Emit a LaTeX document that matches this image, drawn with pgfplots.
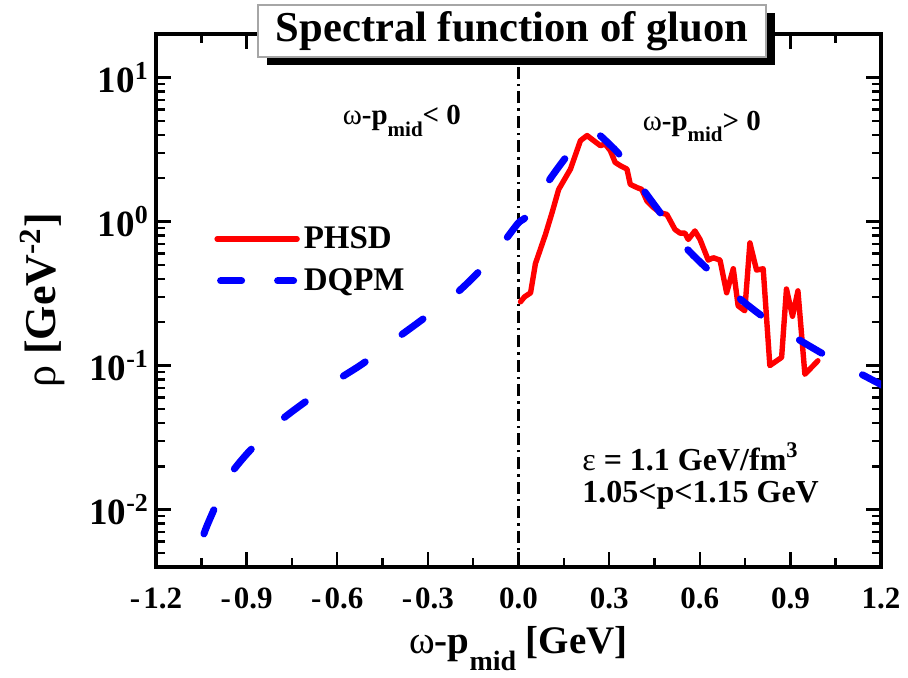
\documentclass[border=0pt]{standalone}
\usepackage{fontspec}
\setmainfont{Liberation Serif}
\usepackage{pgfplots}
\pgfplotsset{compat=1.18}
\usetikzlibrary{shadows}
\newcommand\lowsub[2]{\raisebox{-#1}{\fontsize{#2}{#2}\selectfont\bfseries mid}}
\newcommand\mn{-\kern1.5pt}
\begin{document}
\begin{tikzpicture}
\begin{axis}[
  scale only axis, width=362.5pt, height=266.5pt,
  xmin=-1.2, xmax=1.2, ymode=log, ymin=0.004, ymax=20,
  axis line style={line width=2pt},
  every tick/.style={black, line width=1.2pt},
  tick align=inside,
  major tick length=7.5pt, minor tick length=4.5pt,
  xtick={-1.2,-0.9,-0.6,-0.3,0,0.3,0.6,0.9,1.2},
  xticklabels={\mn1.2,\mn0.9,\mn0.6,\mn0.3,0.0,0.3,0.6,0.9,1.2},
  minor xtick={-1.05,-0.75,-0.45,-0.15,0.15,0.45,0.75,1.05},
  ytick={0.01,0.1,1,10},
  yticklabels={10\textsuperscript{-2},10\textsuperscript{-1},10\textsuperscript{0},10\textsuperscript{1}},
  minor ytick={0.004,0.005,0.006,0.007,0.008,0.009,0.02,0.03,0.04,0.05,0.06,0.07,0.08,0.09,0.2,0.3,0.4,0.5,0.6,0.7,0.8,0.9,2,3,4,5,6,7,8,9,20},
  xticklabel style={font=\bfseries\fontsize{15.5}{18}\selectfont, yshift=-7pt},
  yticklabel style={font=\bfseries\fontsize{18.5}{20}\selectfont},
  xlabel={{\fontsize{19.5}{22}\selectfont ω\textbf{-p}\lowsub{0.45em}{14} \textbf{[GeV]}}},
  xlabel style={at={(axis description cs:0.5,-0.162)}, anchor=base},
  ylabel={{\fontsize{22}{24}\selectfont ρ \textbf{[GeV\textsuperscript{-2}]}}},
  ylabel style={at={(axis description cs:-0.157,0.5)}, anchor=center},
  legend style={at={(axis description cs:0.08,0.647)}, anchor=north west, draw=none, fill=none,
    font=\bfseries\fontsize{16.5}{19}\selectfont, row sep=4.5pt, inner sep=0pt},
  legend cell align=left,
  clip=true,
]
\addplot[black, line width=1.2pt, dash pattern=on 6pt off 2.5pt on 1.2pt off 2.5pt, forget plot]
  coordinates {(0,0.004) (0,20)};
\addplot[red, line width=2.7pt, line join=round, line cap=round,
  legend image code/.code={\draw[red, line width=2.7pt, line cap=round, solid] (0pt,0pt) -- (40pt,0pt);}]
  coordinates {
(0.0066,0.277) (0.02,0.30) (0.04,0.32) (0.056,0.51) (0.089,0.81) (0.111,1.15)
(0.133,1.67) (0.172,2.31) (0.205,3.64) (0.227,3.95) (0.249,3.64) (0.271,3.36)
(0.287,3.45) (0.304,3.10) (0.320,2.57) (0.337,2.44) (0.359,2.31) (0.370,1.81)
(0.392,1.72) (0.408,1.67) (0.425,1.39) (0.447,1.25) (0.469,1.15) (0.491,1.12)
(0.518,0.88) (0.535,0.83) (0.551,0.83) (0.562,0.75) (0.584,0.86) (0.601,0.75)
(0.628,0.54) (0.645,0.56) (0.667,0.54) (0.689,0.32) (0.711,0.47) (0.727,0.26)
(0.749,0.24) (0.766,0.71) (0.788,0.46) (0.810,0.47) (0.832,0.10) (0.871,0.114)
(0.887,0.34) (0.907,0.22) (0.925,0.33) (0.948,0.087) (0.991,0.108)
  };
\addlegendentry{PHSD}
\addplot[blue, line width=3.5pt, line cap=round, smooth, tension=0.4,
  dash pattern=on 13pt off 23pt, dash phase=13pt,
  legend image code/.code={
    \draw[blue, line width=3.5pt, line cap=round, solid] (1.75pt,0pt) -- (12.25pt,0pt);
    \draw[blue, line width=3.5pt, line cap=round, solid] (30.25pt,0pt) -- (38.25pt,0pt);}]
  coordinates {
(-1.07,0.0033) (-1.044,0.0065) (-1.011,0.0097) (-0.962,0.0166) (-0.896,0.0248)
(-0.797,0.040) (-0.709,0.0554) (-0.604,0.0785) (-0.516,0.103) (-0.412,0.150)
(-0.329,0.201) (-0.219,0.30) (-0.136,0.438) (-0.043,0.75) (0.0,0.98)
(0.034,1.12) (0.100,1.91) (0.161,2.86) (0.20,3.5) (0.24,4.0) (0.255,4.08)
(0.27,3.95) (0.30,3.45) (0.337,2.86) (0.408,1.72) (0.469,1.15) (0.551,0.67)
(0.634,0.45) (0.738,0.285) (0.826,0.206) (0.931,0.15) (1.019,0.117)
(1.123,0.0898) (1.21,0.072)
  };
\addlegendentry{DQPM}
\node[anchor=base, font=\fontsize{14.5}{16}\selectfont] at (axis cs:-0.386,4.7)
  {ω\textbf{-p}\lowsub{0.4em}{10.5}\textbf{< 0}};
\node[anchor=base, font=\fontsize{14.5}{16}\selectfont] at (axis cs:0.607,4.3)
  {ω\textbf{-p}\lowsub{0.4em}{10.5}\textbf{> 0}};
\node[anchor=base west, inner sep=0pt, font=\fontsize{16}{18}\selectfont] at (axis cs:0.210,0.0187)
  {ε \textbf{= 1.1 GeV/fm\textsuperscript{3}}};
\node[anchor=base west, inner sep=0pt, font=\bfseries\fontsize{16}{18}\selectfont] at (axis cs:0.210,0.01119)
  {1.05<p<1.15 GeV};
\coordinate (ll) at (rel axis cs:0,0);
\end{axis}
\node[draw=gray!70, line width=0.6pt, fill=white,
  drop shadow={fill=black, opacity=1, shadow xshift=4.5pt, shadow yshift=-4pt},
  minimum width=254pt, minimum height=26pt, inner sep=0pt,
  font=\bfseries\fontsize{21.3}{24}\selectfont] at ([shift={(178pt,268pt)}]ll) {Spectral function of gluon};
\pgfresetboundingbox
\path[use as bounding box] ([shift={(-78pt,-55pt)}]ll) rectangle ([shift={(376pt,283.5pt)}]ll);
\end{tikzpicture}
\end{document}
